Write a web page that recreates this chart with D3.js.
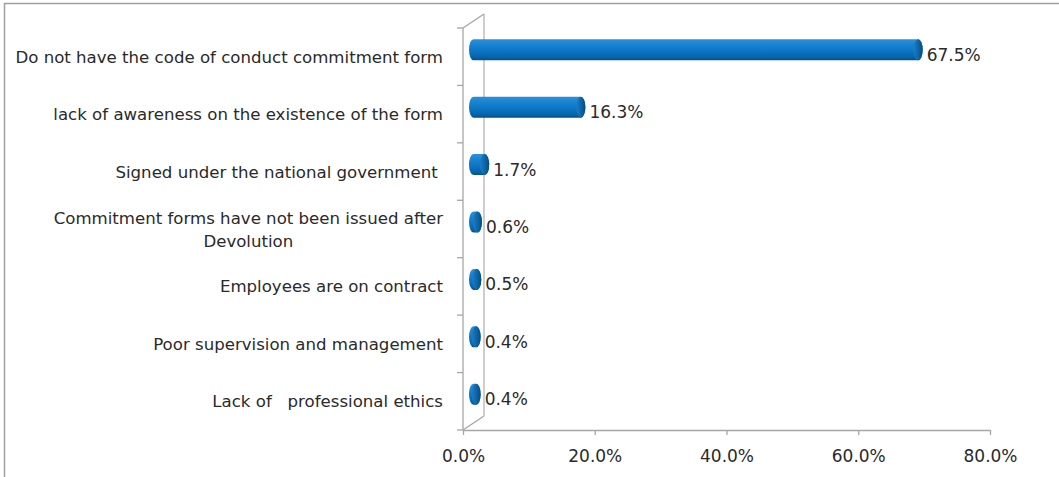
<!DOCTYPE html>
<html>
<head>
<meta charset="utf-8">
<script src="https://cdn.jsdelivr.net/npm/d3@7"></script>
<style>
  html, body { margin: 0; padding: 0; background: #fff; }
  svg { display: block; }
  text { font-family: "DejaVu Sans", Verdana, sans-serif; fill: #2a2a2a; white-space: pre; }
</style>
</head>
<body>
<svg id="chart" width="1059" height="477"></svg>
<script>
// Reasons for not signing the code of conduct commitment form (share of respondents)
const categories = [
  "Do not have the code of conduct commitment form",
  "lack of awareness on the existence of the form",
  "Signed under the national government ",
  "Commitment forms have not been issued after\nDevolution",
  "Employees are on contract",
  "Poor supervision and management",
  "Lack of   professional ethics"
];
const values = [67.5, 16.3, 1.7, 0.6, 0.5, 0.4, 0.4];
const xTicks = [0, 20, 40, 60, 80];

const svg = d3.select("#chart");
const W = 1059, H = 477;

// plot frame (front plane) and 3-D depth offset
const plotL = 463, plotR = 990, plotT = 28, plotB = 430;
const depthX = 21, depthY = -14;
const barDX = depthX / 2, barDY = depthY / 2;

const x = d3.scaleLinear().domain([0, 80]).range([plotL, plotR]);
const y = d3.scaleBand().domain(categories).range([plotT, plotB]).padding(0);

const fontSize = 17, catFontSize = 16.6;
const gridColor = "#a6a6a6";

// outer chart border (only top and left edges fall inside the view)
svg.append("path")
  .attr("d", `M4.5,${H} L4.5,3.5 L${W},3.5`)
  .attr("fill", "none").attr("stroke", "#a0a0a0").attr("stroke-width", 1.5);

// gradients for the cylinders
const defs = svg.append("defs");
const bodyGrad = defs.append("linearGradient").attr("id", "cylBody")
  .attr("x1", 0).attr("y1", 0).attr("x2", 0).attr("y2", 1);
[[0, "#2f8fd6"], [0.25, "#1a84d2"], [0.6, "#0a74c2"], [0.85, "#0565ac"], [1, "#0a4f86"]]
  .forEach(([o, c]) => bodyGrad.append("stop").attr("offset", o).attr("stop-color", c));
const capGrad = defs.append("linearGradient").attr("id", "cylCap")
  .attr("x1", 0).attr("y1", 0).attr("x2", 1).attr("y2", 0);
[[0, "#1c7dc4"], [0.6, "#0b62a3"], [1, "#074a7e"]]
  .forEach(([o, c]) => capGrad.append("stop").attr("offset", o).attr("stop-color", c));

// walls: back edge, top and floor diagonals, front category axis
const walls = svg.append("g").attr("fill", "none").attr("stroke", gridColor).attr("stroke-width", 1.3);
walls.append("line")
  .attr("x1", plotL + depthX).attr("y1", plotT + depthY)
  .attr("x2", plotL + depthX).attr("y2", plotB + depthY)
  .attr("stroke", "#b4b4b4");
walls.append("line")
  .attr("x1", plotL).attr("y1", plotT).attr("x2", plotL + depthX).attr("y2", plotT + depthY);
walls.append("line")
  .attr("x1", plotL).attr("y1", plotB).attr("x2", plotL + depthX).attr("y2", plotB + depthY);
walls.append("line")
  .attr("x1", plotL).attr("y1", plotT).attr("x2", plotL).attr("y2", plotB);

// category axis tick marks at band boundaries
const bounds = categories.map(c => y(c)).concat([plotB]);
walls.selectAll("line.ctick").data(bounds).join("line")
  .attr("class", "ctick")
  .attr("x1", plotL - 6).attr("x2", plotL)
  .attr("y1", d => d).attr("y2", d => d);

// value axis
const xAxis = d3.axisBottom(x)
  .tickValues(xTicks)
  .tickSize(5)
  .tickSizeOuter(0)
  .tickFormat(d => d.toFixed(1) + "%");
const gx = svg.append("g").attr("transform", `translate(0,${plotB})`).call(xAxis);
gx.select(".domain").attr("stroke", gridColor).attr("stroke-width", 1.3);
gx.selectAll(".tick line").attr("stroke", gridColor).attr("stroke-width", 1.3);
gx.selectAll(".tick text")
  .attr("y", 20).attr("dy", "0.71em")
  .style("font-size", fontSize + "px")
  .style("font-family", '"DejaVu Sans", Verdana, sans-serif')
  .attr("fill", "#2a2a2a");

// cylinders
const rx = 4.5, barH = 21, ry = barH / 2;
const bars = svg.append("g");
categories.forEach((c, i) => {
  const cy = y(c) + y.bandwidth() / 2 + barDY;
  const x0 = x(0) + barDX;
  const x1 = x(values[i]) + barDX;
  const yt = cy - ry, yb = cy + ry;
  bars.append("path")
    .attr("d", `M${x0},${yt} L${x1},${yt} A${rx},${ry} 0 0 1 ${x1},${yb} L${x0},${yb} A${rx},${ry} 0 0 1 ${x0},${yt} Z`)
    .attr("fill", "url(#cylBody)");
  bars.append("ellipse")
    .attr("cx", x1).attr("cy", cy).attr("rx", rx).attr("ry", ry)
    .attr("fill", "url(#cylCap)");
});

// value labels
svg.append("g").selectAll("text").data(categories).join("text")
  .attr("x", (c, i) => x(values[i]) + barDX + rx + 4)
  .attr("y", c => y(c) + y.bandwidth() / 2 + 4)
  .style("font-size", fontSize + "px")
  .text((c, i) => values[i].toFixed(1) + "%");

// category labels, right-aligned block, wrapped lines centred within it
const labelRight = 443, lineH = 23;
const labels = svg.append("g");
categories.forEach(c => {
  const lines = c.split("\n");
  const cy = y(c) + y.bandwidth() / 2;
  const t = labels.append("text").style("font-size", catFontSize + "px");
  lines.forEach((ln, k) => {
    t.append("tspan")
      .attr("y", cy + 6 + (k - (lines.length - 1) / 2) * lineH)
      .text(ln);
  });
  const spans = t.selectAll("tspan").nodes();
  const maxW = d3.max(spans, s => s.getComputedTextLength());
  if (lines.length === 1) {
    t.attr("text-anchor", "end");
    t.selectAll("tspan").attr("x", labelRight);
  } else {
    t.attr("text-anchor", "middle");
    t.selectAll("tspan").attr("x", labelRight - maxW / 2);
  }
});
</script>
</body>
</html>
